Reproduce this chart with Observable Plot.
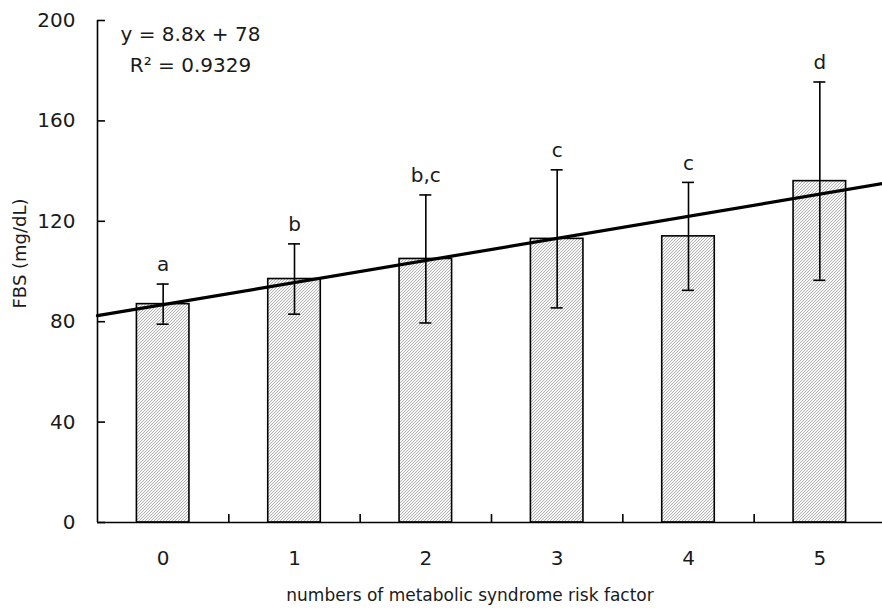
<!DOCTYPE html>
<html>
<head>
<meta charset="utf-8">
<script src="https://cdn.jsdelivr.net/npm/d3@7"></script>
<script src="https://cdn.jsdelivr.net/npm/@observablehq/plot@0.6"></script>
<style>
  html, body { margin: 0; padding: 0; background: #fff; }
  #chart svg { display: block; }
</style>
</head>
<body>
<div id="chart"></div>
<script>
// Number of metabolic syndrome risk factors
const categories = [0, 1, 2, 3, 4, 5];
// Mean fasting blood sugar (mg/dL) and standard deviation per group
const means = [87, 97, 105, 113, 114, 136];
const sds = [8, 14, 25.5, 27.5, 21.5, 39.5];
// Significance groupings shown above each bar
const letters = ["a", "b", "b,c", "c", "c", "d"];
// y-axis ticks
const yTicks = [0, 40, 80, 120, 160, 200];
// Linear trend (x counts categories from 1)
const slope = 8.8;
const intercept = 78;
const rSquared = "0.9329";

const rows = categories.map((k, i) => ({
  k, mean: means[i], lo: means[i] - sds[i], hi: means[i] + sds[i], letter: letters[i]
}));

const xDomain = [categories[0] - 0.5, categories[categories.length - 1] + 0.5];
const trend = xDomain.map(x => ({x, y: intercept + slope * (x + 1)}));
const boundaries = categories.slice(0, -1).map(k => k + 0.5);
const halfBar = 0.2;
const font = "DejaVu Sans, sans-serif";
const ink = "#1a1a1a";
const line = {stroke: "#000", strokeWidth: 1.6};

const chart = Plot.plot({
  width: 882,
  height: 613,
  marginLeft: 97,
  marginRight: 0,
  marginTop: 20,
  marginBottom: 91,
  style: {fontFamily: font, background: "#fff", color: "#000", overflow: "hidden"},
  x: {domain: xDomain, range: [97, 885], axis: null},
  y: {domain: [0, 200], axis: null},
  marks: [
    // hatched bars
    Plot.rectY(rows, {x1: d => d.k - halfBar, x2: d => d.k + halfBar, y1: 0, y2: "mean",
      fill: "url(#hatch)", ...line}),
    // error bars with caps
    Plot.ruleX(rows, {x: "k", y1: "lo", y2: "hi", ...line}),
    Plot.ruleY(rows, {y: "hi", x1: "k", x2: "k", insetLeft: -6, insetRight: -6, ...line}),
    Plot.ruleY(rows, {y: "lo", x1: "k", x2: "k", insetLeft: -6, insetRight: -6, ...line}),
    // significance letters
    Plot.text(rows, {x: "k", y: "hi", text: "letter", dy: -19, fontSize: 20, lineAnchor: "middle", fill: ink}),
    // linear trend across the whole plot
    Plot.line(trend, {x: "x", y: "y", stroke: "#000", strokeWidth: 3.2}),
    // y axis with inward ticks
    Plot.ruleX([xDomain[0]], {y1: 0, y2: 200, ...line}),
    Plot.ruleY(yTicks, {y: d => d, x1: xDomain[0], x2: xDomain[0], insetRight: -8, ...line}),
    Plot.text(yTicks, {x: xDomain[0], y: d => d, text: d => String(d), textAnchor: "end", dx: -22,
      fontSize: 20, lineAnchor: "middle", fill: ink}),
    // x axis with ticks between categories
    Plot.ruleY([0], line),
    Plot.ruleX(boundaries, {x: d => d, y1: 0, y2: 0, insetTop: -8, ...line}),
    Plot.text(categories, {x: d => d, y: 0, text: d => String(d), dy: 36, fontSize: 20,
      lineAnchor: "middle", fill: ink}),
    // axis titles
    Plot.text(["numbers of metabolic syndrome risk factor"], {frameAnchor: "bottom", dx: -20, dy: 73,
      fontSize: 17, lineAnchor: "middle", fill: ink}),
    Plot.text(["FBS (mg/dL)"], {frameAnchor: "left", dx: -77, dy: 37, rotate: -90,
      fontSize: 18, lineAnchor: "middle", fill: ink}),
    // regression equation
    Plot.text([`y = ${slope}x + ${intercept}\nR² = ${rSquared}`], {
      frameAnchor: "top-left", dx: 93, dy: -2, textAnchor: "middle", lineAnchor: "top",
      lineHeight: 1.55, fontSize: 20, fill: ink})
  ]
});

// hatch pattern used by the bars
const pattern = d3.select(chart).insert("defs", ":first-child")
  .append("pattern")
  .attr("id", "hatch")
  .attr("patternUnits", "userSpaceOnUse")
  .attr("width", 3)
  .attr("height", 3);
pattern.append("rect").attr("width", 3).attr("height", 3).attr("fill", "#f7f7f7");
pattern.append("path")
  .attr("d", "M-1,1 l2,-2 M0,3 l3,-3 M2,4 l2,-2")
  .attr("stroke", "#9a9a9a")
  .attr("stroke-width", 0.75);

document.getElementById("chart").appendChild(chart);
</script>
</body>
</html>
